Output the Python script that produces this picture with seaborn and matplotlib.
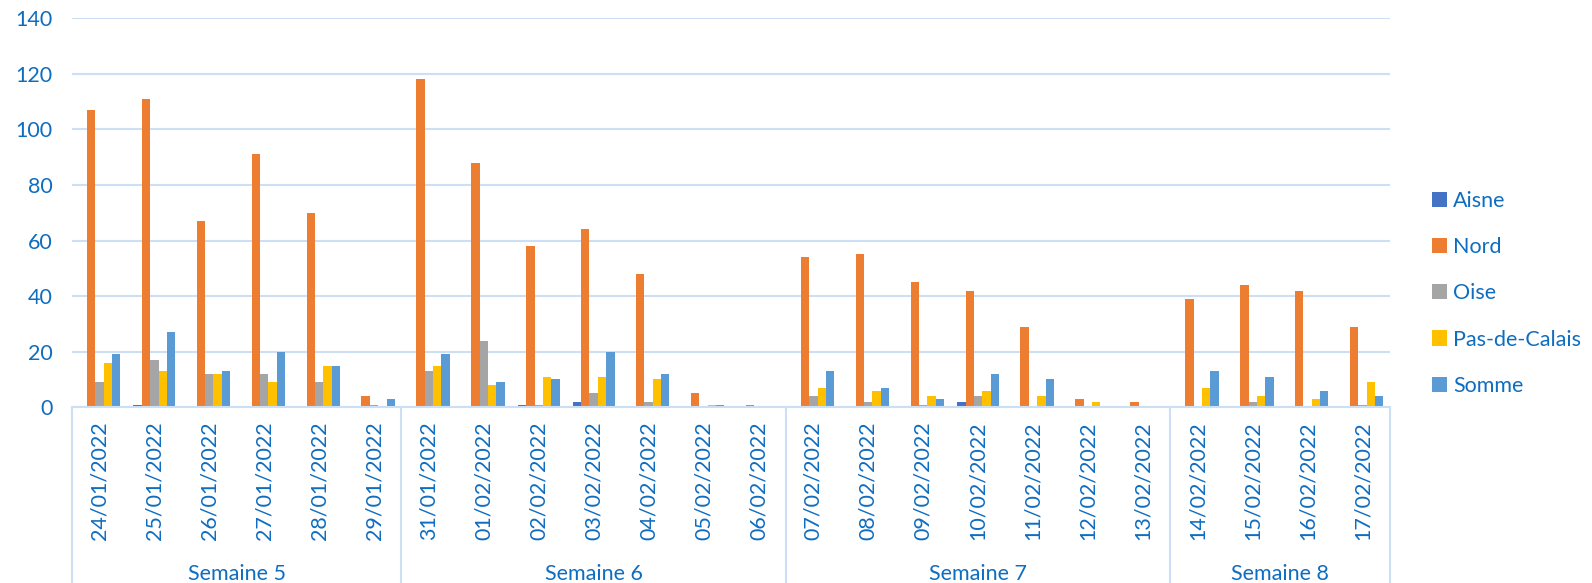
import matplotlib
matplotlib.use("Agg")
import matplotlib.pyplot as plt
import matplotlib.transforms as mtransforms
from matplotlib.patches import Patch
import seaborn as sns
import pandas as pd

dates = ["24/01/2022", "25/01/2022", "26/01/2022", "27/01/2022", "28/01/2022", "29/01/2022",
         "31/01/2022", "01/02/2022", "02/02/2022", "03/02/2022", "04/02/2022", "05/02/2022", "06/02/2022",
         "07/02/2022", "08/02/2022", "09/02/2022", "10/02/2022", "11/02/2022", "12/02/2022", "13/02/2022",
         "14/02/2022", "15/02/2022", "16/02/2022", "17/02/2022"]
weeks = ["Semaine 5", "Semaine 6", "Semaine 7", "Semaine 8"]
week_sizes = [6, 7, 7, 4]

aisne = [0, 1, 0, 0, 0, 0, 0, 0, 1, 2, 0, 0, 0, 0, 0, 0, 2, 0, 0, 0, 0, 0, 0, 0]
nord = [107, 111, 67, 91, 70, 4, 118, 88, 58, 64, 48, 5, 1, 54, 55, 45, 42, 29, 3, 2, 39, 44, 42, 29]
oise = [9, 17, 12, 12, 9, 1, 13, 24, 1, 5, 2, 0, 0, 4, 2, 1, 4, 0, 0, 0, 0, 2, 0, 1]
pdc = [16, 13, 12, 9, 15, 0, 15, 8, 11, 11, 10, 1, 0, 7, 6, 4, 6, 4, 2, 0, 7, 4, 3, 9]
somme = [19, 27, 13, 20, 15, 3, 19, 9, 10, 20, 12, 1, 0, 13, 7, 3, 12, 10, 0, 0, 13, 11, 6, 4]

series = {"Aisne": aisne, "Nord": nord, "Oise": oise, "Pas-de-Calais": pdc, "Somme": somme}
colors = {"Aisne": "#4472C4", "Nord": "#ED7D31", "Oise": "#A5A5A5",
          "Pas-de-Calais": "#FFC000", "Somme": "#5B9BD5"}

rows = []
for name, vals in series.items():
    for d, v in zip(dates, vals):
        rows.append({"date": d, "dept": name, "value": v})
df = pd.DataFrame(rows)

sns.set_theme(style="white")
plt.rcParams["font.family"] = ["Lato", "DejaVu Sans"]

TXT = "#0F6DC0"
GRID = "#CCDFF4"
FS = 15.5

fig = plt.figure(figsize=(15.92, 5.83), dpi=100)
ax = fig.add_axes([0.0452, 0.3014, 0.8279, 0.6672])

sns.barplot(data=df, x="date", y="value", hue="dept", order=dates,
            hue_order=list(series.keys()), palette=colors, width=0.76,
            saturation=1, linewidth=0, ax=ax, legend=False)

ax.set_ylim(0, 140)
ax.set_xlim(-0.5, len(dates) - 0.5)
ax.set_yticks(range(0, 141, 20))
ax.yaxis.grid(True, color=GRID, linewidth=1.5)
ax.set_axisbelow(True)
for s in ["top", "right", "left"]:
    ax.spines[s].set_visible(False)
ax.spines["bottom"].set_color(GRID)
ax.spines["bottom"].set_linewidth(1.5)
ax.set_xlabel("")
ax.set_ylabel("")
ax.tick_params(axis="y", length=0, pad=14, labelsize=FS, labelcolor=TXT)
ax.tick_params(axis="x", length=0, pad=10, labelsize=FS, labelcolor=TXT)
for lab in ax.get_xticklabels():
    lab.set_rotation(90)
    lab.set_va("top")
    lab.set_ha("center")

# Multi-level category axis
trans = mtransforms.blended_transform_factory(ax.transData, ax.transAxes)
bottom_axes = -0.3014 / 0.6672
bounds = [-0.5]
for s in week_sizes:
    bounds.append(bounds[-1] + s)
for b in bounds:
    ax.plot([b, b], [0, bottom_axes], transform=trans, color=GRID,
            linewidth=1.5, clip_on=False)
for i, w in enumerate(weeks):
    mid = (bounds[i] + bounds[i + 1]) / 2
    ax.text(mid, -0.428, w, transform=trans, ha="center", va="center",
            fontsize=FS, color=TXT)

handles = [Patch(facecolor=colors[k], edgecolor="none", label=k) for k in series]
leg = fig.legend(handles=handles, loc="center left", bbox_to_anchor=(0.894, 0.4966),
                 frameon=False, fontsize=FS, handlelength=0.7, handleheight=0.7,
                 handletextpad=0.3, labelspacing=1.21, borderaxespad=0)
for t in leg.get_texts():
    t.set_color(TXT)

fig.savefig("out.png", dpi=100)
